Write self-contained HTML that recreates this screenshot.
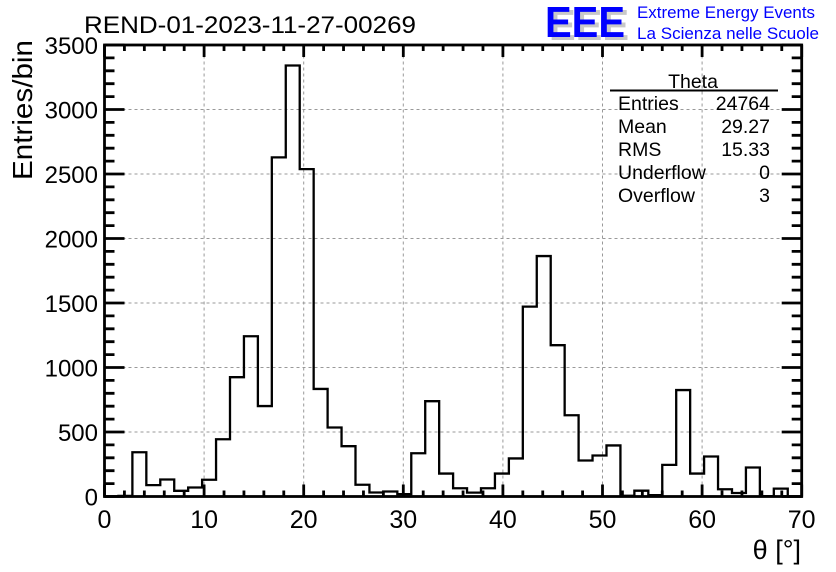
<!DOCTYPE html>
<html><head><meta charset="utf-8"><style>
body{margin:0;background:#fff;}
svg{display:block;font-family:"Liberation Sans",sans-serif;}
</style></head><body>
<svg id="chart" width="836" height="572" viewBox="0 0 836 572" xmlns="http://www.w3.org/2000/svg">
<rect width="836" height="572" fill="#fff"/>
<g id="grid"></g>
<g id="hist"></g>
<g id="axes"></g>
<text x="84" y="33" font-size="24" textLength="332" lengthAdjust="spacingAndGlyphs">REND-01-2023-11-27-00269</text>
<g>
<text x="549" y="40" font-size="44" font-weight="bold" fill="#c8c8c8" textLength="80" lengthAdjust="spacingAndGlyphs">EEE</text>
<text x="545" y="37" font-size="44" font-weight="bold" fill="#0000ff" textLength="80" lengthAdjust="spacingAndGlyphs">EEE</text>
<text x="637" y="18" font-size="17" fill="#0000ff" textLength="178" lengthAdjust="spacingAndGlyphs">Extreme Energy Events</text>
<text x="637" y="39" font-size="17" fill="#0000ff" textLength="182" lengthAdjust="spacingAndGlyphs">La Scienza nelle Scuole</text>
</g>
<g font-size="19.5">
<text x="693" y="88" text-anchor="middle">Theta</text>
<line x1="610" y1="90.5" x2="778" y2="90.5" stroke="#000" stroke-width="2"/>
<text x="618" y="110">Entries</text><text x="770" y="110" text-anchor="end">24764</text>
<text x="618" y="133">Mean</text><text x="770" y="133" text-anchor="end">29.27</text>
<text x="618" y="156">RMS</text><text x="770" y="156" text-anchor="end">15.33</text>
<text x="618" y="179">Underflow</text><text x="770" y="179" text-anchor="end">0</text>
<text x="618" y="202">Overflow</text><text x="770" y="202" text-anchor="end">3</text>
</g>
<text transform="translate(32,180) rotate(-90)" font-size="28" textLength="140" lengthAdjust="spacingAndGlyphs">Entries/bin</text>
<text x="801" y="559" font-size="27" text-anchor="end">θ [°]</text>
</svg>
<script>
const binLow = 0, binWidth = 1.4;
const counts = [0,5,343,88,132,44,70,130,444,925,1242,701,2629,3341,2538,834,535,390,91,31,39,18,335,739,178,64,30,64,178,295,1472,1864,1173,630,279,318,396,6,45,10,245,825,178,310,56,27,225,3,61,0];
const xTicks = [0,10,20,30,40,50,60,70];
const yTicks = [0,500,1000,1500,2000,2500,3000,3500];
const X0=104.5, X1=801.7, Y0=496.5, Y1=45;
const xs = v => X0 + (v-0)/(70-0)*(X1-X0);
const ys = v => Y0 - v/3500*(Y0-Y1);
const NS="http://www.w3.org/2000/svg";
function mk(tag, attrs, parent){const e=document.createElementNS(NS,tag);for(const k in attrs)e.setAttribute(k,attrs[k]);parent.appendChild(e);return e;}
const grid=document.getElementById('grid'), hist=document.getElementById('hist'), axes=document.getElementById('axes');
xTicks.forEach(t=>{ if(t>0&&t<70){const l=mk('line',{x1:xs(t),x2:xs(t),y1:Y0,y2:Y1,stroke:'#999','stroke-dasharray':'3,3','stroke-width':1},grid);

}});
yTicks.forEach(t=>{ if(t>0&&t<3500){const l=mk('line',{x1:X0,x2:X1,y1:ys(t),y2:ys(t),stroke:'#999','stroke-dasharray':'3,3','stroke-width':1},grid);

}});
let d='M'+xs(binLow)+','+ys(0);
counts.forEach((c,i)=>{const a=binLow+i*binWidth,b=a+binWidth;d+=' L'+xs(a)+','+ys(c)+' L'+xs(b)+','+ys(c);});
d+=' L'+xs(binLow+counts.length*binWidth)+','+ys(0);
const p=mk('path',{d:d,fill:'none',stroke:'#000','stroke-width':2.3},hist);


const fr=mk('rect',{x:X0,y:Y1,width:X1-X0,height:Y0-Y1,fill:'none',stroke:'#000','stroke-width':2.8},axes);


let td='';
for(let v=0;v<=70;v+=2){const L=(v%10===0)?12:6;td+=`M${xs(v)},${Y0}v${-L}M${xs(v)},${Y1}v${L}`;}
for(let v=0;v<=3500;v+=100){const L=(v%500===0)?20:10;td+=`M${X0},${ys(v)}h${L}M${X1},${ys(v)}h${-L}`;}
const tk=mk('path',{d:td,stroke:'#000','stroke-width':2.8,fill:'none'},axes);


xTicks.forEach(t=>{const e=mk('text',{x:xs(t),y:528,'font-size':25,'text-anchor':'middle'},axes);e.textContent=t;

});
yTicks.forEach(t=>{const e=mk('text',{x:98,y:ys(t)+9,'font-size':24,'text-anchor':'end'},axes);e.textContent=t;

});
</script>
</body></html>
